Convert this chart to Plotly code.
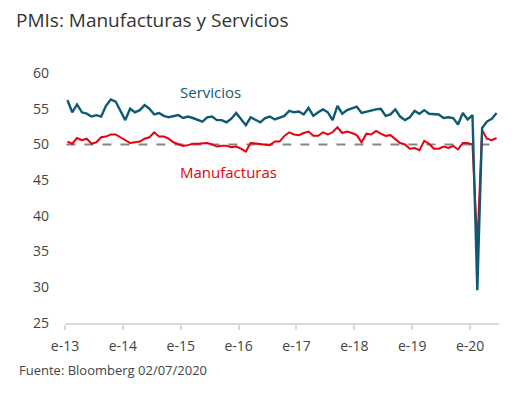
import plotly.graph_objects as go
import pandas as pd

meses = pd.date_range("2013-01-01", "2020-06-01", freq="MS")

manufacturas = [
    50.4, 50.1, 50.9, 50.6, 50.8, 50.1, 50.3, 51.0, 51.1, 51.4, 51.4, 51.0,
    50.5, 50.2, 50.3, 50.4, 50.8, 51.0, 51.7, 51.1, 51.1, 50.8, 50.3, 50.1,
    49.8, 49.9, 50.1, 50.1, 50.2, 50.2, 50.0, 49.7, 49.8, 49.8, 49.6, 49.7,
    49.4, 49.0, 50.2, 50.1, 50.1, 50.0, 49.9, 50.4, 50.4, 51.2, 51.7, 51.4,
    51.3, 51.6, 51.8, 51.2, 51.2, 51.7, 51.4, 51.7, 52.4, 51.6, 51.8, 51.6,
    51.3, 50.3, 51.5, 51.4, 51.9, 51.5, 51.2, 51.3, 50.8, 50.2, 50.0, 49.4,
    49.5, 49.2, 50.5, 50.1, 49.4, 49.4, 49.7, 49.5, 49.8, 49.3, 50.2, 50.2,
    50.0, 35.7, 52.0, 50.8, 50.6, 50.9,
]
servicios = [
    56.2, 54.5, 55.6, 54.5, 54.3, 53.9, 54.1, 53.9, 55.4, 56.3, 56.0, 54.6,
    53.4, 55.0, 54.5, 54.8, 55.5, 55.0, 54.2, 54.4, 54.0, 53.8, 53.9, 54.1,
    53.7, 53.9, 53.7, 53.4, 53.2, 53.8, 53.9, 53.4, 53.4, 53.1, 53.6, 54.4,
    53.5, 52.7, 53.8, 53.5, 53.1, 53.7, 53.9, 53.5, 53.7, 54.0, 54.7, 54.5,
    54.6, 54.2, 55.1, 54.0, 54.5, 54.9, 54.5, 53.4, 55.4, 54.3, 54.8, 55.0,
    55.3, 54.4, 54.6, 54.8, 54.9, 55.0, 54.0, 54.2, 54.9, 53.9, 53.4, 53.8,
    54.7, 54.3, 54.8, 54.3, 54.3, 54.2, 53.7, 53.8, 53.7, 52.8, 54.4, 53.5,
    54.1, 29.6, 52.3, 53.2, 53.6, 54.4,
]
tick_labels = ["e-13", "e-14", "e-15", "e-16", "e-17", "e-18", "e-19", "e-20"]
y_ticks = [25, 30, 35, 40, 45, 50, 55, 60]
umbral = 50

# Monthly categories: each month occupies one slot, ticks at January boundaries
n = len(meses)
pos = list(range(n))
tick_pos = [i - 0.5 for i, d in enumerate(meses) if d.month == 1]

RED = "#e8000c"
TEAL = "#0f5a73"
FONT = "Open Sans"

fig = go.Figure()
fig.add_trace(go.Scatter(
    x=[-0.2, n - 0.8], y=[umbral, umbral], mode="lines",
    line=dict(color="#858585", width=2, dash="dash"), hoverinfo="skip"))
fig.add_trace(go.Scatter(x=pos, y=manufacturas, mode="lines",
                         line=dict(color=RED, width=2), name="Manufacturas"))
fig.add_trace(go.Scatter(x=pos, y=servicios, mode="lines",
                         line=dict(color=TEAL, width=2.4), name="Servicios"))

fig.update_layout(
    width=527, height=394,
    margin=dict(l=65, r=28, t=73, b=71, autoexpand=False),
    paper_bgcolor="white", plot_bgcolor="white",
    showlegend=False,
    font=dict(family=FONT, color="#444444", size=14),
    title=dict(text="PMIs: Manufacturas y Servicios", x=16 / 527, xanchor="left",
               y=1 - 20 / 394, yanchor="middle",
               font=dict(family=FONT, size=19, color="#333333")),
    xaxis=dict(
        range=[-0.5, n - 0.5],
        tickvals=tick_pos, ticktext=tick_labels,
        showgrid=False, zeroline=False,
        showline=True, linecolor="#d9d9d9", linewidth=2,
        ticks="outside", ticklen=5, tickcolor="#d9d9d9", tickwidth=2,
        tickfont=dict(size=14, color="#444444"),
        ticklabelstandoff=4,
    ),
    yaxis=dict(
        range=[25, 60], tickvals=y_ticks,
        showgrid=False, zeroline=False, showline=False,
        tickfont=dict(size=14, color="#444444"),
        ticklabelstandoff=15,
    ),
    annotations=[
        dict(text="Servicios", x=23, y=57.3, xref="x", yref="y",
             xanchor="left", showarrow=False,
             font=dict(family=FONT, size=15, color=TEAL)),
        dict(text="Manufacturas", x=23, y=46.1, xref="x", yref="y",
             xanchor="left", showarrow=False,
             font=dict(family=FONT, size=15, color=RED)),
        dict(text="Fuente: Bloomberg 02/07/2020", x=(17 - 65) / 434,
             y=(394 - 71 - 370) / 250, xref="paper", yref="paper",
             xanchor="left", yanchor="middle", showarrow=False,
             font=dict(family=FONT, size=13, color="#444444")),
    ],
)

fig.write_html("out.html", config={"displayModeBar": False},
               post_script="document.body.style.margin='0';document.body.style.overflow='hidden';")
